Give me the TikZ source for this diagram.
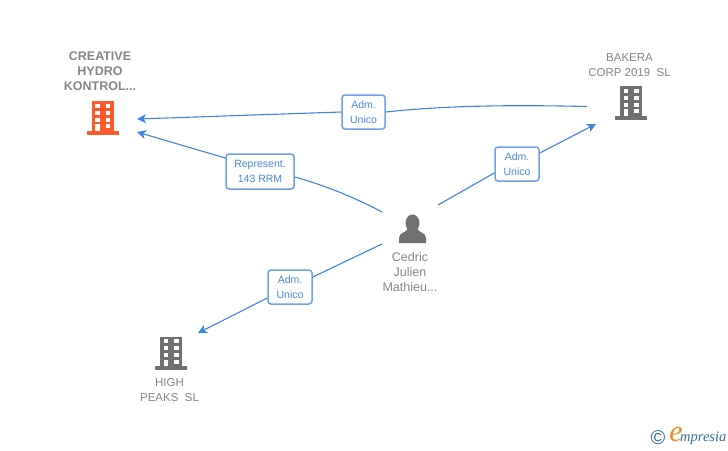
\documentclass[tikz,border=0pt]{standalone}
\usepackage{fontspec}
\setmainfont{Liberation Sans}
\newfontfamily\logofont[Ligatures=TeX]{Liberation Serif}
\usetikzlibrary{arrows.meta}
\usetikzlibrary{positioning}
\definecolor{linkblue}{HTML}{3F82E0}
\definecolor{labelblue}{HTML}{4A86D8}
\definecolor{icongray}{HTML}{707070}
\definecolor{textgray}{HTML}{858585}
\definecolor{hotorange}{HTML}{FF5A2B}
\definecolor{logoteal}{HTML}{2F6F8F}
\definecolor{logoorange}{HTML}{F08A24}
\tikzset{
  link/.style={draw=linkblue,line width=1.1pt},
  linkto/.style={link,-{Stealth[length=9pt,width=9pt,inset=2.5pt]}},
  rolebox/.style={draw=linkblue!75,line width=1.5pt,rounded corners=3pt,fill=white,text=labelblue,
    font=\fontsize{10.5}{15}\selectfont,align=center,inner sep=0pt},
  firmname/.style={text=textgray,align=center,inner sep=0pt},
  building/.pic={
    \fill (-11,-16.5) rectangle (11,13);
    \fill (-16,13) rectangle (16,17);
    \foreach \y in {-14,-7,0}{
      \fill[white] (-7.5,\y) rectangle (-3,\y+4);
      \fill[white] (3,\y) rectangle (7.5,\y+4);
    }
    \fill[white] (-7.5,6.5) rectangle (-3,13);
    \fill[white] (3,6.5) rectangle (7.5,10.5);
  },
}
\begin{document}
\begin{tikzpicture}[x=1pt,y=-1pt]
  \useasboundingbox (0,0) rectangle (728,450);
  % buildings
  \path[fill=hotorange] (102.5,117.5) pic {building};
  \path[fill=icongray] (631,102.5) pic {building};
  \path[fill=icongray] (171,353) pic {building};
  % person
  \fill[icongray] (412.5,223) ellipse (7 and 8.5);
  \fill[icongray] (399,243) -- (399,238) .. controls (399,232) and (407,233) .. (408,228)
    -- (417,228) .. controls (418,233) and (426,232) .. (426,238) -- (426,243) -- cycle;
  % names
  \node[firmname,font=\fontsize{12.5}{15}\selectfont\bfseries] (hydro) at (100,71.5) {CREATIVE\\HYDRO\\KONTROL...};
  \node[firmname,font=\fontsize{11.5}{15}\selectfont] (bakera) at (629.5,65) {BAKERA\\CORP 2019~~SL};
  \node[firmname,font=\fontsize{11.5}{15}\selectfont] (peaks) at (169.5,390) {HIGH\\PEAKS~~SL};
  \node[firmname,font=\fontsize{12.5}{15}\selectfont] (cedric) at (410,272) {Cedric\\Julien\\Mathieu...};
  % labels
  \node[rolebox,minimum width=43pt,minimum height=34pt] (admtop) at (363.5,112) {Adm.\\Unico};
  \node[rolebox,minimum width=68pt,minimum height=35pt] (repr) at (260,171.5) {Represent.\\143 RRM};
  \node[rolebox,minimum width=44pt,minimum height=34pt] (admright) at (517,164) {Adm.\\Unico};
  \node[rolebox,minimum width=44pt,minimum height=34pt] (admlow) at (290,287) {Adm.\\Unico};
  % free ends
  \coordinate (hydroa) at (137,119);
  \coordinate (hydrob) at (137,132);
  \coordinate (bakeraa) at (587,106.5);
  \coordinate (bakerab) at (596,124);
  \coordinate (peaksa) at (198,333);
  \coordinate (cedrica) at (382,212);
  \coordinate (cedricb) at (438,205);
  \coordinate (cedricc) at (382,244);
  % connectors
  \draw[link] (bakeraa) .. controls (520,105) and (450,105) .. (admtop.east);
  \draw[linkto] (admtop.west) -- (hydroa);
  \draw[link] (cedrica) .. controls (350,195) and (320,184) .. (repr.east |- 0,177);
  \draw[linkto] (repr.west |- 0,158) -- (hydrob);
  \draw[link] (cedricb) -- (admright.west |- 0,173);
  \draw[linkto] (admright.east |- 0,153) -- (bakerab);
  \draw[link] (cedricc) -- (admlow.east |- 0,277);
  \draw[linkto] (admlow.west |- 0,298) -- (peaksa);
  % logo
  \node[inner sep=0pt,text=logoteal,font=\fontsize{20}{20}\selectfont] (copyr) at (658,438) {©};
  \node[inner sep=0pt,text=logoorange,font=\fontsize{30}{30}\logofont\itshape] (logoe) at (676,435) {e};
  \node[inner sep=0pt,text=logoteal,font=\fontsize{14.5}{14.5}\logofont\itshape,anchor=west] (logotext) at (680,438.5) {mpresia};
\end{tikzpicture}
\end{document}
